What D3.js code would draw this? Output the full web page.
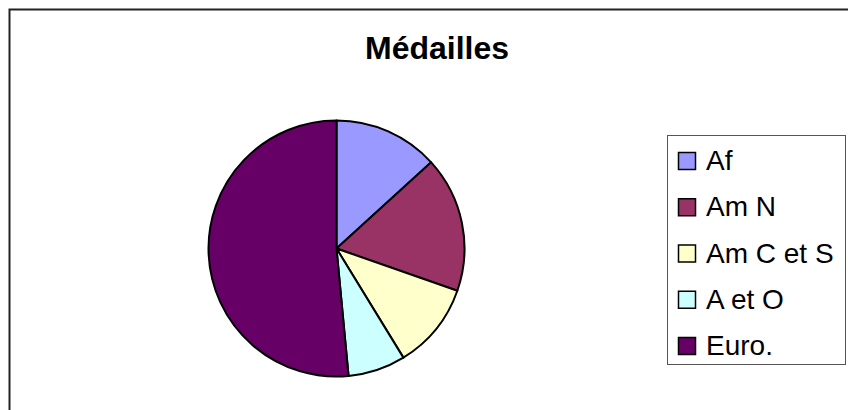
<!DOCTYPE html>
<html><head><meta charset="utf-8">
<script src="https://cdn.jsdelivr.net/npm/d3@7"></script>
<style>html,body{margin:0;padding:0;background:#fff;overflow:hidden}</style>
</head><body>
<svg id="chart" width="848" height="410"></svg>
<script>
const title = "Médailles";
const categories = ["Af", "Am N", "Am C et S", "A et O", "Euro."];
const values = [13.25, 17.1, 10.9, 7.25, 51.5];
const colors = ["#9999FF", "#993366", "#FFFFCC", "#CCFFFF", "#660066"];

const svg = d3.select("#chart");
svg.append("rect").attr("x", 9.5).attr("y", 9.5).attr("width", 900).attr("height", 500)
  .attr("fill", "#fff").attr("stroke", "#222").attr("stroke-width", 2);

svg.append("text").attr("x", 437).attr("y", 59).attr("text-anchor", "middle")
  .attr("font-family", "Liberation Sans, Arial, sans-serif").attr("font-weight", "bold")
  .attr("font-size", 32).attr("fill", "#000").text(title);

const color = d3.scaleOrdinal().domain(categories).range(colors);
const pie = d3.pie().sort(null).value(d => d.v);
const data = categories.map((c, i) => ({c, v: values[i]}));
const arc = d3.arc().innerRadius(0).outerRadius(128);
const g = svg.append("g").attr("transform", "translate(336.5,248.5)");
g.selectAll("path").data(pie(data)).join("path")
  .attr("d", arc).attr("fill", d => color(d.data.c))
  .attr("stroke", "#000").attr("stroke-width", 2).attr("stroke-linejoin", "round");

const lg = svg.append("g");
lg.append("rect").attr("x", 667.5).attr("y", 135.5).attr("width", 178).attr("height", 229)
  .attr("fill", "#fff").attr("stroke", "#555").attr("stroke-width", 1);
const y = d3.scalePoint().domain(categories).range([161, 346]);
const items = lg.selectAll("g.item").data(categories).join("g").attr("class", "item")
  .attr("transform", d => `translate(0,${y(d)})`);
items.append("rect").attr("x", 678.5).attr("y", -8.5).attr("width", 17).attr("height", 17)
  .attr("fill", d => color(d)).attr("stroke", "#000").attr("stroke-width", 1.5);
items.append("text").attr("x", 706).attr("y", 9)
  .attr("font-family", "Liberation Sans, Arial, sans-serif").attr("font-size", 28)
  .attr("fill", "#000").text(d => d);
</script>
</body></html>
